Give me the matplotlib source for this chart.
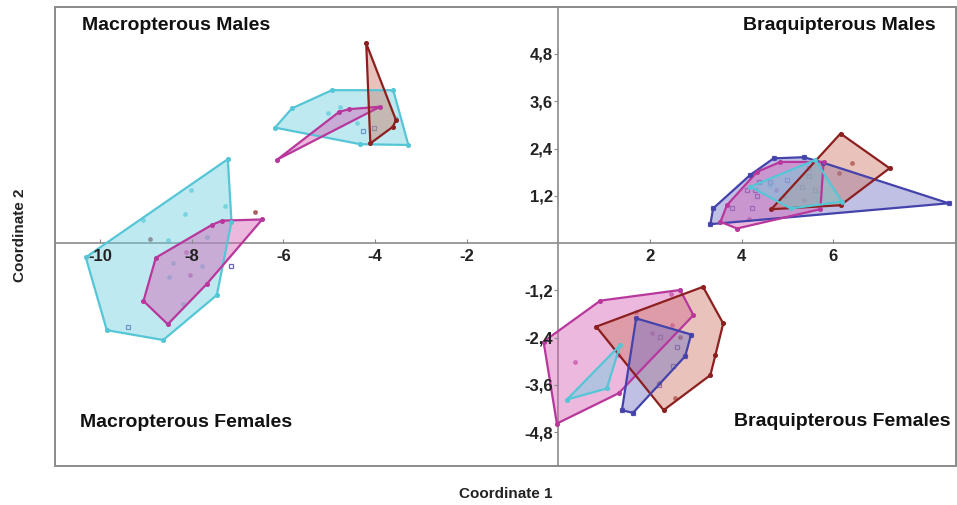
import numpy as np
import matplotlib
matplotlib.use('Agg')
import matplotlib.pyplot as plt
from matplotlib.patches import Polygon, Rectangle
from matplotlib.ticker import FuncFormatter

plt.rcParams['font.family'] = ['Liberation Sans', 'DejaVu Sans']

# colores de cada grupo (borde, relleno)
COLORES = {
    'cian': ('#55c6d6', '#6fd0de'),
    'magenta': ('#b8379c', '#d663b6'),
    'rojo': ('#8c1f1f', '#cf7a68'),
    'azul': ('#4343ab', '#7474c6'),
}

# --- Macropterous Females ---
mf_cian_x = [-7.21, -7.13, -7.45, -8.62, -9.85, -10.31, -8.02, -8.14, -9.05, -7.27, -8.52, -7.67, -8.41, -7.78, -8.49, -8.18]
mf_cian_y = [2.13, 0.54, -1.32, -2.46, -2.21, -0.36, 1.36, 0.74, 0.58, 0.95, 0.08, 0.16, -0.5, -0.58, -0.87, -1.55]
mf_magenta_x = [-7.34, -6.46, -7.67, -8.52, -9.05, -8.78, -7.56, -8.12, -8.03]
mf_magenta_y = [0.57, 0.6, -1.04, -2.06, -1.47, -0.37, 0.46, -0.22, -0.81]
mf_azul_x = [-9.38, -7.15]
mf_azul_y = [-2.14, -0.57]
mf_rojo_x = [-8.91, -6.62]
mf_rojo_y = [0.1, 0.8]

# --- Macropterous Males ---
mm_cian_x = [-6.18, -5.81, -4.94, -3.6, -3.53, -3.27, -4.32, -5.02, -4.76, -4.4]
mm_cian_y = [2.93, 3.42, 3.88, 3.88, 3.17, 2.49, 2.51, 3.31, 3.46, 3.04]
mm_magenta_x = [-6.13, -4.78, -4.56, -3.89]
mm_magenta_y = [2.12, 3.33, 3.4, 3.46]
mm_rojo_x = [-4.19, -3.54, -3.61, -4.1]
mm_rojo_y = [5.07, 3.12, 2.95, 2.53]
mm_azul_x = [-4.26, -4.03]
mm_azul_y = [2.84, 2.93]

# --- Braquipterous Males ---
bm_azul_x = [3.32, 3.38, 4.19, 4.7, 5.36, 5.78, 8.52, 3.79, 4.23, 4.12, 4.3, 4.37, 4.34, 4.63, 4.99, 5.47, 5.47, 5.32, 5.61]
bm_azul_y = [0.48, 0.88, 1.73, 2.15, 2.18, 2.04, 1.01, 0.9, 0.9, 1.36, 1.35, 1.56, 1.19, 1.56, 1.6, 1.7, 1.9, 1.43, 1.36]
bm_magenta_x = [3.54, 3.9, 5.72, 5.79, 4.85, 4.34, 3.68, 4.76, 5.36, 4.92, 4.16]
bm_magenta_y = [0.54, 0.37, 0.86, 2.06, 2.06, 1.81, 0.96, 1.36, 1.09, 1.19, 0.6]
bm_rojo_x = [4.65, 6.16, 7.23, 6.16, 6.41, 6.12]
bm_rojo_y = [0.86, 2.78, 1.9, 0.96, 2.02, 1.77]
bm_cian_x = [4.19, 5.61, 6.19, 5.07, 4.63]
bm_cian_y = [1.43, 2.11, 1.05, 0.88, 1.47]

# --- Braquipterous Females ---
bf_magenta_x = [-0.32, 0.92, 2.45, 2.66, 2.95, 1.32, -0.03, 0.37, 2.05, 2.48, 1.7, 1.3]
bf_magenta_y = [-2.5, -1.46, -1.29, -1.19, -1.83, -3.81, -4.58, -3.01, -2.28, -2.08, -1.74, -2.84]
bf_rojo_x = [0.83, 3.16, 3.6, 3.43, 2.3, 3.32, 2.55, 2.19, 2.66]
bf_rojo_y = [-2.12, -1.11, -2.04, -2.84, -4.24, -3.35, -3.94, -3.55, -2.38]
bf_azul_x = [1.7, 2.9, 2.77, 1.63, 1.39, 2.23, 2.59, 2.5, 2.19]
bf_azul_y = [-1.91, -2.32, -2.87, -4.31, -4.24, -2.39, -2.63, -3.11, -3.6]
bf_cian_x = [1.35, 1.06, 0.19]
bf_cian_y = [-2.59, -3.69, -3.97]

x_ticks = [-10, -8, -6, -4, -2, 2, 4, 6]
y_ticks = [4.8, 3.6, 2.4, 1.2, -1.2, -2.4, -3.6, -4.8]

grupos = [
    (mf_cian_x, mf_cian_y, 'cian'), (mf_magenta_x, mf_magenta_y, 'magenta'),
    (mf_azul_x, mf_azul_y, 'azul'), (mf_rojo_x, mf_rojo_y, 'rojo'),
    (mm_cian_x, mm_cian_y, 'cian'), (mm_magenta_x, mm_magenta_y, 'magenta'),
    (mm_rojo_x, mm_rojo_y, 'rojo'), (mm_azul_x, mm_azul_y, 'azul'),
    (bm_azul_x, bm_azul_y, 'azul'), (bm_magenta_x, bm_magenta_y, 'magenta'),
    (bm_rojo_x, bm_rojo_y, 'rojo'), (bm_cian_x, bm_cian_y, 'cian'),
    (bf_magenta_x, bf_magenta_y, 'magenta'), (bf_rojo_x, bf_rojo_y, 'rojo'),
    (bf_azul_x, bf_azul_y, 'azul'), (bf_cian_x, bf_cian_y, 'cian'),
]


def envolvente(xs, ys):
    # cadena monótona (convex hull)
    pts = sorted(set(zip(xs, ys)))
    def cruz(o, a, b):
        return (a[0]-o[0])*(b[1]-o[1]) - (a[1]-o[1])*(b[0]-o[0])
    inf, sup = [], []
    for p in pts:
        while len(inf) >= 2 and cruz(inf[-2], inf[-1], p) <= 0:
            inf.pop()
        inf.append(p)
    for p in reversed(pts):
        while len(sup) >= 2 and cruz(sup[-2], sup[-1], p) <= 0:
            sup.pop()
        sup.append(p)
    return np.array(inf[:-1] + sup[:-1])


fig = plt.figure(figsize=(9.57, 5.05), dpi=100)
ax = fig.add_axes([0.0575, 0.077, 0.941, 0.909])
ax.set_xlim(-10.98, 8.67)
ax.set_ylim(-5.66, 5.99)

for xs, ys, c in grupos:
    borde, relleno = COLORES[c]
    if c == 'azul':
        ax.plot(xs, ys, 's', ms=3.5, mfc='none', mec=borde, mew=0.9, alpha=0.8, zorder=2)
    else:
        ax.plot(xs, ys, 'o', ms=2.5, color=borde, alpha=0.6, zorder=2)
    if len(xs) >= 3:
        h = envolvente(xs, ys)
        ax.add_patch(Polygon(h, closed=True, facecolor=relleno, edgecolor='none', alpha=0.45, zorder=3))
        ax.add_patch(Polygon(h, closed=True, facecolor='none', edgecolor=borde, lw=1.6, zorder=4))
        ax.plot(h[:, 0], h[:, 1], 'o', ms=2.5, color=borde, zorder=5)

# ejes en el origen
gris = '#8a8a8a'
for s in ['top', 'right']:
    ax.spines[s].set_visible(False)
ax.spines['left'].set_position(('data', 0))
ax.spines['bottom'].set_position(('data', 0))
ax.spines['left'].set_color(gris)
ax.spines['bottom'].set_color(gris)
ax.spines['left'].set_linewidth(1.2)
ax.spines['bottom'].set_linewidth(1.2)
ax.add_patch(Rectangle((0, 0), 1, 1, transform=ax.transAxes, fill=False,
                       edgecolor=gris, lw=1.4, clip_on=False, zorder=6))

ax.set_xticks(x_ticks)
ax.set_yticks(y_ticks)
ax.xaxis.set_major_formatter(FuncFormatter(lambda v, p: f'{v:.0f}'))
ax.yaxis.set_major_formatter(FuncFormatter(lambda v, p: f'{v:.1f}'.replace('.', ',')))
ax.tick_params(axis='x', direction='in', length=3, color=gris, pad=4)
ax.tick_params(axis='y', direction='out', length=3, color=gris, pad=1)
for lab in ax.get_xticklabels() + ax.get_yticklabels():
    lab.set_fontweight('bold')
    lab.set_fontsize(12)
    lab.set_color('#222222')
ax.xaxis.set_zorder(8)
ax.yaxis.set_zorder(8)

opts = dict(transform=ax.transAxes, fontsize=14, fontweight='bold', va='center', color='#111111')
ax.text(0.03, 0.959, 'Macropterous Males', ha='left', **opts)
ax.text(0.978, 0.959, 'Braquipterous Males', ha='right', **opts)
ax.text(0.028, 0.094, 'Macropterous Females', ha='left', **opts)
ax.text(0.994, 0.098, 'Braquipterous Females', ha='right', **opts)

fig.text(0.528, 0.022, 'Coordinate 1', ha='center', va='center', fontsize=11, fontweight='bold', color='#222222')
fig.text(0.021, 0.535, 'Coordinate 2', ha='center', va='center', rotation=90, fontsize=11, fontweight='bold', color='#222222')

fig.savefig('out.png', dpi=100)
